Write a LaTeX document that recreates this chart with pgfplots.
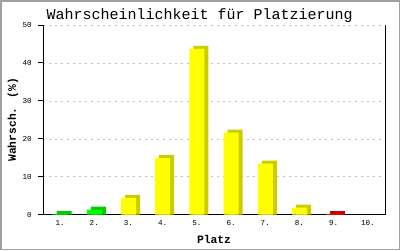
\documentclass[border=0pt]{standalone}
\usepackage{pgfplots}
\pgfplotsset{compat=1.18}
\usepackage{fontspec}
\setmainfont{Liberation Mono}
\definecolor{gfront}{HTML}{00FF00}
\definecolor{gdark}{HTML}{00CC00}
\definecolor{yfront}{HTML}{FFFF00}
\definecolor{ydark}{HTML}{CCCC00}
\definecolor{rfront}{HTML}{FF0000}
\definecolor{rdark}{HTML}{CC0000}
\definecolor{framegray}{HTML}{A0A0A0}
\definecolor{gridgray}{HTML}{C0C0C0}
\begin{document}
\begin{tikzpicture}[x=1pt,y=1pt]
\draw[fill=white, draw=framegray, line width=1.5pt] (0.75,0.75) rectangle (399.25,249.25);
\begin{axis}[
  at={(43pt,35.5pt)}, anchor=south west,
  scale only axis, width=342pt, height=189.5pt,
  xmin=0.5, xmax=10.5, ymin=0, ymax=50,
  axis x line*=bottom, axis y line*=left,
  axis line style={black, line width=1pt},
  clip=false,
  xtick={1,...,10},
  xticklabels={1.,2.,3.,4.,5.,6.,7.,8.,9.,10.},
  ytick={0,10,...,50},
  xtick style={draw=none},
  ytick style={black, line width=1pt},
  tick align=outside, major tick length=5pt,
  ymajorgrids,
  grid style={draw=gridgray, dash pattern=on 2pt off 4pt},
  tick label style={font=\fontsize{7.6}{8}\selectfont},
  /pgf/number format/assume math mode=true,
  yticklabel style={inner sep=0pt, anchor=east, xshift=-6pt},
  xticklabel style={inner sep=0pt, anchor=base, yshift=-6pt},
  title={Wahrscheinlichkeit für Platzierung},
  title style={font=\fontsize{15}{15}\selectfont, at={(axis description cs:0.458,1)}, anchor=base, yshift=0pt, inner sep=0pt},
  xlabel={Platz},
  xlabel style={font=\bfseries\fontsize{11.3}{12}\selectfont, at={(axis description cs:0.5,0)}, anchor=base, yshift=-28.5pt, inner sep=0pt},
  ylabel={Wahrsch. (\%)},
  ylabel style={font=\bfseries\fontsize{11.3}{12}\selectfont, at={(axis description cs:-0.079,0.5)}, anchor=base, inner sep=0pt},
]
% back (shadow) bars, shifted right and up
\addplot[ybar, bar width=15pt, bar shift=4pt, fill=gdark, draw=none] coordinates {(1,0.9) (2,2.1)};
\addplot[ybar, bar width=15pt, bar shift=0pt, fill=gfront, draw=none] coordinates {(1,0.1) (2,1.3)};
\addplot[ybar, bar width=15pt, bar shift=4pt, fill=ydark, draw=none] coordinates {(3,5.2) (4,15.7) (5,44.5) (6,22.4) (7,14.2) (8,2.6)};
\addplot[ybar, bar width=15pt, bar shift=0pt, fill=yfront, draw=none] coordinates {(3,4.4) (4,14.9) (5,43.7) (6,21.6) (7,13.4) (8,1.8)};
\addplot[ybar, bar width=15pt, bar shift=4pt, fill=rdark, draw=none] coordinates {(9,0.9)};
\addplot[ybar, bar width=15pt, bar shift=0pt, fill=rfront, draw=none] coordinates {(9,0.1)};
\draw[black, line width=1pt] (rel axis cs:1,0) -- (rel axis cs:1,1);
\end{axis}
\end{tikzpicture}
\end{document}
